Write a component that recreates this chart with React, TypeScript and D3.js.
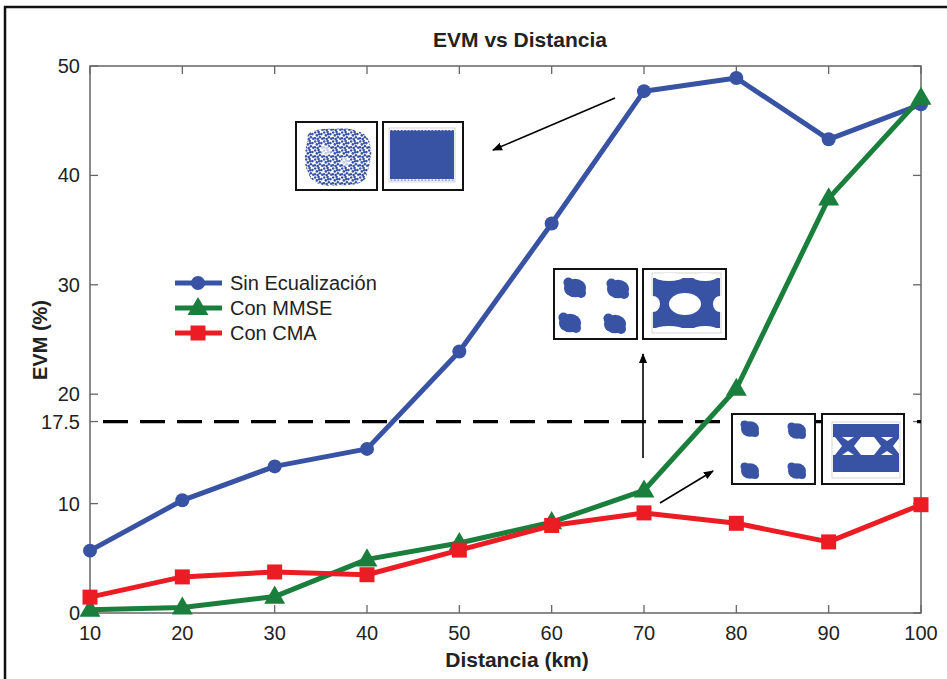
import * as d3 from 'd3';

// EVM (%) vs distance (km)
const distances = [10, 20, 30, 40, 50, 60, 70, 80, 90, 100];
const sinEcualizacion = [5.7, 10.3, 13.4, 15.0, 23.9, 35.6, 47.7, 48.9, 43.3, 46.5];
const conMMSE = [0.3, 0.5, 1.5, 4.9, 6.4, 8.3, 11.2, 20.5, 37.9, 47.1];
const conCMA = [1.45, 3.3, 3.75, 3.5, 5.75, 8.0, 9.15, 8.2, 6.5, 9.9];

const xTicks = [10, 20, 30, 40, 50, 60, 70, 80, 90, 100];
const yTicks = [0, 10, 17.5, 20, 30, 40, 50];
const threshold = 17.5;

const seriesNames = ['Sin Ecualización', 'Con MMSE', 'Con CMA'];

const W = 947;
const H = 679;
const FONT = 'Liberation Sans, Arial, Helvetica, sans-serif';
const BLUE = '#3953a4';
const GREEN = '#1a7f3c';
const RED = '#ec1c24';
const AXIS = '#666666';

const x = d3.scaleLinear().domain([10, 100]).range([90, 921]);
const y = d3.scaleLinear().domain([0, 50]).range([613, 66]);

const series = [
  { name: seriesNames[0], values: sinEcualizacion, color: BLUE, marker: 'circle' },
  { name: seriesNames[1], values: conMMSE, color: GREEN, marker: 'triangle' },
  { name: seriesNames[2], values: conCMA, color: RED, marker: 'square' },
];

const line = d3
  .line<number>()
  .x((_, i) => x(distances[i]))
  .y((d) => y(d));

function Marker({ kind, cx, cy, color }: { kind: string; cx: number; cy: number; color: string }) {
  if (kind === 'circle') return <circle cx={cx} cy={cy} r={7} fill={color} />;
  if (kind === 'square') return <rect x={cx - 7.5} y={cy - 7.5} width={15} height={15} fill={color} />;
  const tri = d3.symbol(d3.symbolTriangle, 190)();
  return <path d={tri || ''} transform={`translate(${cx},${cy + 1})`} fill={color} />;
}

// little blue pictures drawn inside the inset boxes (constellations / eye diagrams)
function InsetContent({ kind, w, h }: { kind: string; w: number; h: number }) {
  if (kind === 'noise') {
    return (
      <g>
        <path
          d={`M12,12 C22,4 40,8 48,6 C60,8 72,10 74,22 C78,34 72,46 70,56 C62,66 46,62 36,64 C24,64 14,60 12,50 C6,40 10,28 12,12 Z`}
          fill="url(#scatterPat)"
        />
        <path d="M24,26 C30,20 38,26 34,32 C30,36 24,32 24,26 Z" fill="#fff" opacity={0.7} />
        <path d="M46,36 C52,32 56,40 52,44 C48,46 44,42 46,36 Z" fill="#fff" opacity={0.7} />
      </g>
    );
  }
  if (kind === 'noiseEye') {
    return (
      <g>
        <rect x={6} y={6} width={w - 14} height={h - 14} fill="none" stroke="#bbb" strokeWidth={0.6} />
        <rect x={7} y={9} width={w - 16} height={h - 20} fill={BLUE} />
        <rect x={7} y={8} width={w - 16} height={3} fill="url(#dotsPat)" />
        <rect x={7} y={h - 12} width={w - 16} height={3} fill="url(#dotsPat)" />
      </g>
    );
  }
  if (kind === 'qpsk' || kind === 'qpskTight') {
    const r = kind === 'qpsk' ? 11 : 9;
    const pts =
      kind === 'qpsk'
        ? [
            [21, 19],
            [64, 20],
            [16, 54],
            [61, 55],
          ]
        : [
            [18, 15],
            [65, 17],
            [18, 57],
            [65, 57],
          ];
    return (
      <g>
        {pts.map(([cx, cy], i) => (
          <g key={i}>
            <ellipse cx={cx} cy={cy} rx={r} ry={r * 0.85} fill={BLUE} />
            <circle cx={cx - r * 0.6} cy={cy - r * 0.5} r={r * 0.45} fill={BLUE} />
            <circle cx={cx + r * 0.55} cy={cy + r * 0.45} r={r * 0.45} fill={BLUE} />
          </g>
        ))}
      </g>
    );
  }
  if (kind === 'eyeOpen') {
    return (
      <g>
        <rect x={9} y={4} width={w - 14} height={h - 10} fill="none" stroke="#bbb" strokeWidth={0.6} />
        <rect x={10} y={9} width={w - 16} height={h - 20} fill={BLUE} />
        <ellipse cx={42} cy={35} rx={16} ry={11} fill="#fff" />
        <ellipse cx={10} cy={35} rx={7} ry={8} fill="#fff" />
        <ellipse cx={w - 6} cy={35} rx={7} ry={8} fill="#fff" />
        <ellipse cx={26} cy={8} rx={14} ry={4} fill="#fff" />
        <ellipse cx={62} cy={8} rx={12} ry={4} fill="#fff" />
        <ellipse cx={26} cy={h - 10} rx={14} ry={3} fill="#fff" />
        <ellipse cx={62} cy={h - 10} rx={12} ry={3} fill="#fff" />
      </g>
    );
  }
  // eyeX
  const c1 = 26;
  const c2 = 65;
  const cy = 32;
  const tb = 23;
  const bb = 41;
  return (
    <g>
      <rect x={10} y={8} width={w - 14} height={h - 14} fill="none" stroke="#bbb" strokeWidth={0.6} />
      <rect x={11} y={10} width={w - 16} height={h - 22} fill={BLUE} />
      <polygon points={`${c1 + 6},${cy} ${c1 + 13},${tb} ${c2 - 13},${tb} ${c2 - 6},${cy} ${c2 - 13},${bb} ${c1 + 13},${bb}`} fill="#fff" />
      <polygon points={`11,${tb} ${c1 - 13},${tb} ${c1 - 6},${cy} ${c1 - 13},${bb} 11,${bb}`} fill="#fff" />
      <polygon points={`${w - 5},${tb} ${c2 + 13},${tb} ${c2 + 6},${cy} ${c2 + 13},${bb} ${w - 5},${bb}`} fill="#fff" />
      {[c1, c2].map((c) => (
        <g key={c}>
          <polygon points={`${c - 6},${tb} ${c + 6},${tb} ${c},${cy - 5}`} fill="#fff" />
          <polygon points={`${c - 6},${bb} ${c + 6},${bb} ${c},${cy + 5}`} fill="#fff" />
        </g>
      ))}
    </g>
  );
}

const insets = [
  { x: 296, y: 122, w: 81, h: 68, kind: 'noise' },
  { x: 383, y: 122, w: 80, h: 68, kind: 'noiseEye' },
  { x: 554, y: 269, w: 83, h: 70, kind: 'qpsk' },
  { x: 643, y: 269, w: 83, h: 70, kind: 'eyeOpen' },
  { x: 732, y: 414, w: 83, h: 70, kind: 'qpskTight' },
  { x: 822, y: 414, w: 82, h: 70, kind: 'eyeX' },
];

const arrows = [
  { x1: 615, y1: 98, x2: 493, y2: 150 },
  { x1: 643, y1: 458, x2: 643, y2: 354 },
  { x1: 660, y1: 503, x2: 713, y2: 471 },
];

export default function App() {
  const [x0, x1] = x.range();
  const [y0, y1] = y.range();
  return (
    <svg
      width={W}
      height={H}
      style={{ position: 'absolute', left: 0, top: 0, background: '#fff' }}
      fontFamily={FONT}
    >
      <defs>
        <pattern id="dotsPat" width={3.4} height={3.4} patternUnits="userSpaceOnUse">
          <circle cx={1.7} cy={1.7} r={1.35} fill={BLUE} />
        </pattern>
        <pattern id="scatterPat" width={9} height={9} patternUnits="userSpaceOnUse">
          <circle cx={1.2} cy={1.5} r={1.3} fill={BLUE} />
          <circle cx={4.6} cy={0.9} r={1.3} fill={BLUE} />
          <circle cx={7.4} cy={3.1} r={1.3} fill={BLUE} />
          <circle cx={2.8} cy={4.4} r={1.3} fill={BLUE} />
          <circle cx={5.9} cy={6.2} r={1.3} fill={BLUE} />
          <circle cx={0.9} cy={7.3} r={1.3} fill={BLUE} />
          <circle cx={3.7} cy={8.0} r={1.3} fill={BLUE} />
          <circle cx={8.3} cy={7.7} r={1.3} fill={BLUE} />
          <circle cx={5.2} cy={3.3} r={1.3} fill={BLUE} />
        </pattern>
        {insets.map((b, i) => (
          <clipPath key={i} id={`insetClip${i}`}>
            <rect x={1} y={1} width={b.w - 2} height={b.h - 2} />
          </clipPath>
        ))}
        <marker id="arrowHead" viewBox="0 0 10 10" refX={9} refY={5} markerWidth={10} markerHeight={10} markerUnits="userSpaceOnUse" orient="auto">
          <path d="M0,1 L10,5 L0,9 Z" fill="#000" />
        </marker>
      </defs>
      <rect x={0} y={0} width={W} height={H} fill="#fff" />
      {/* outer frame */}
      <rect x={5} y={7} width={W + 20} height={H + 20} fill="none" stroke="#111" strokeWidth={2.5} />

      <text x={520} y={47} textAnchor="middle" fontSize={21} fontWeight="bold" fill="#222">
        EVM vs Distancia
      </text>

      {/* plot box */}
      <rect x={x0} y={y1} width={x1 - x0} height={y0 - y1} fill="none" stroke={AXIS} strokeWidth={1.5} />

      {xTicks.map((t) => (
        <g key={`xt${t}`}>
          <line x1={x(t)} x2={x(t)} y1={y0} y2={y0 - 8} stroke={AXIS} strokeWidth={1.3} />
          <line x1={x(t)} x2={x(t)} y1={y1} y2={y1 + 8} stroke={AXIS} strokeWidth={1.3} />
          <text x={x(t)} y={640} textAnchor="middle" fontSize={20} fill="#222">
            {t}
          </text>
        </g>
      ))}
      {yTicks.map((t) => (
        <g key={`yt${t}`}>
          <line x1={x0} x2={x0 + 8} y1={y(t)} y2={y(t)} stroke={AXIS} strokeWidth={1.3} />
          <line x1={x1} x2={x1 - 8} y1={y(t)} y2={y(t)} stroke={AXIS} strokeWidth={1.3} />
          <text x={80} y={y(t) + 7} textAnchor="end" fontSize={20} fill="#222">
            {t}
          </text>
        </g>
      ))}

      <text x={517} y={667} textAnchor="middle" fontSize={21} fontWeight="bold" fill="#222">
        Distancia (km)
      </text>
      <text
        transform={`translate(47,340) rotate(-90)`}
        textAnchor="middle"
        fontSize={20}
        fontWeight="bold"
        fill="#222"
      >
        EVM (%)
      </text>

      {/* 17.5 % threshold */}
      <line x1={103} x2={x1} y1={y(threshold)} y2={y(threshold)} stroke="#000" strokeWidth={3.2} strokeDasharray="25 12" />

      {/* series */}
      {series.map((s) => (
        <g key={s.name}>
          <path d={line(s.values) || ''} fill="none" stroke={s.color} strokeWidth={5} strokeLinejoin="round" />
          {s.values.map((v, i) => (
            <Marker key={i} kind={s.marker} cx={x(distances[i])} cy={y(v)} color={s.color} />
          ))}
        </g>
      ))}

      {/* inset pictures */}
      {insets.map((b, i) => (
        <g key={i} transform={`translate(${b.x},${b.y})`}>
          <rect x={0} y={0} width={b.w} height={b.h} fill="#fff" />
          <g clipPath={`url(#insetClip${i})`}>
            <InsetContent kind={b.kind} w={b.w} h={b.h} />
          </g>
          <rect x={0} y={0} width={b.w} height={b.h} fill="none" stroke="#111" strokeWidth={2} />
        </g>
      ))}

      {arrows.map((a, i) => (
        <line key={i} x1={a.x1} y1={a.y1} x2={a.x2} y2={a.y2} stroke="#000" strokeWidth={1.6} markerEnd="url(#arrowHead)" />
      ))}

      {/* legend */}
      {series.map((s, i) => {
        const ly = 283 + i * 25;
        return (
          <g key={`lg${i}`}>
            <line x1={175} x2={222} y1={ly} y2={ly} stroke={s.color} strokeWidth={5} />
            <Marker kind={s.marker} cx={198} cy={ly} color={s.color} />
            <text x={230} y={ly + 7} fontSize={20} fill="#222">
              {s.name}
            </text>
          </g>
        );
      })}
    </svg>
  );
}
